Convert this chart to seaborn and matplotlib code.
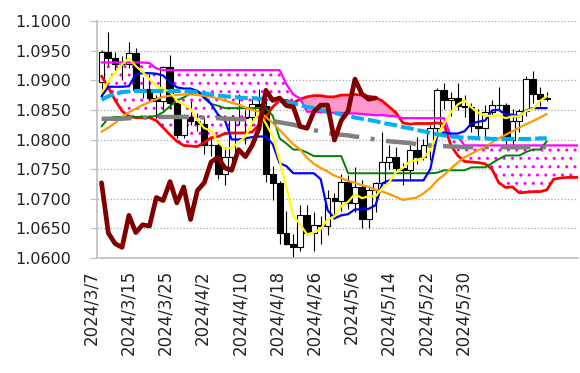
import numpy as np
import seaborn as sns
import matplotlib.pyplot as plt
from matplotlib.ticker import FormatStrFormatter

# EUR/USD daily, 2024/3/7 .. 2024/6/6 (business days)
dates = ['2024/3/7', '2024/3/15', '2024/3/25', '2024/4/2', '2024/4/10', '2024/4/18',
         '2024/4/26', '2024/5/6', '2024/5/14', '2024/5/22', '2024/5/30']

op = [1.0897, 1.0948, 1.0937, 1.0927, 1.0927, 1.0946, 1.0883, 1.0886, 1.0870, 1.0865,
      1.0922, 1.0862, 1.0808, 1.0838, 1.0831, 1.0826, 1.0791, 1.0790, 1.0741, 1.0771,
      1.0836, 1.0837, 1.0838, 1.0860, 1.0856, 1.0742, 1.0727, 1.0642, 1.0624, 1.0618,
      1.0672, 1.0643, 1.0656, 1.0654, 1.0702, 1.0697, 1.0729, 1.0693, 1.0720, 1.0665,
      1.0714, 1.0727, 1.0762, 1.0770, 1.0752, 1.0748, 1.0783, 1.0771, 1.0790, 1.0819,
      1.0883, 1.0866, 1.0870, 1.0857, 1.0855, 1.0822, 1.0819, 1.0847, 1.0858, 1.0858,
      1.0799, 1.0832, 1.0848, 1.0902, 1.0877, 1.0868]
hi = [1.0951, 1.0981, 1.0948, 1.0941, 1.0964, 1.0954, 1.0906, 1.0910, 1.0875, 1.0924,
      1.0942, 1.0868, 1.0843, 1.0865, 1.0845, 1.0838, 1.0803, 1.0800, 1.0787, 1.0842,
      1.0876, 1.0849, 1.0868, 1.0885, 1.0865, 1.0756, 1.0730, 1.0679, 1.0641, 1.0689,
      1.0690, 1.0678, 1.0671, 1.0714, 1.0709, 1.0742, 1.0740, 1.0754, 1.0732, 1.0719,
      1.0728, 1.0812, 1.0790, 1.0788, 1.0761, 1.0791, 1.0804, 1.0801, 1.0825, 1.0887,
      1.0895, 1.0880, 1.0895, 1.0875, 1.0862, 1.0852, 1.0859, 1.0866, 1.0889, 1.0861,
      1.0852, 1.0852, 1.0908, 1.0916, 1.0889, 1.0880]
lo = [1.0869, 1.0925, 1.0913, 1.0901, 1.0921, 1.0880, 1.0870, 1.0867, 1.0836, 1.0850,
      1.0853, 1.0802, 1.0802, 1.0825, 1.0815, 1.0776, 1.0772, 1.0733, 1.0724, 1.0756,
      1.0825, 1.0792, 1.0822, 1.0845, 1.0728, 1.0698, 1.0623, 1.0622, 1.0601, 1.0612,
      1.0638, 1.0611, 1.0624, 1.0639, 1.0665, 1.0680, 1.0682, 1.0677, 1.0650, 1.0650,
      1.0677, 1.0724, 1.0750, 1.0745, 1.0724, 1.0730, 1.0759, 1.0765, 1.0766, 1.0810,
      1.0852, 1.0840, 1.0849, 1.0838, 1.0812, 1.0804, 1.0804, 1.0841, 1.0850, 1.0789,
      1.0789, 1.0812, 1.0840, 1.0862, 1.0857, 1.0865]
cl = [1.0948, 1.0937, 1.0927, 1.0927, 1.0946, 1.0883, 1.0886, 1.0870, 1.0865, 1.0922,
      1.0862, 1.0808, 1.0838, 1.0831, 1.0826, 1.0791, 1.0790, 1.0741, 1.0771, 1.0836,
      1.0837, 1.0838, 1.0860, 1.0856, 1.0742, 1.0727, 1.0642, 1.0624, 1.0618, 1.0672,
      1.0643, 1.0656, 1.0654, 1.0702, 1.0697, 1.0729, 1.0693, 1.0720, 1.0665, 1.0714,
      1.0727, 1.0762, 1.0770, 1.0752, 1.0748, 1.0783, 1.0771, 1.0790, 1.0819, 1.0883,
      1.0866, 1.0870, 1.0857, 1.0855, 1.0822, 1.0819, 1.0847, 1.0858, 1.0858, 1.0799,
      1.0832, 1.0848, 1.0902, 1.0877, 1.0868, 1.0870]

tenkan = [1.0873, 1.0889, 1.0889, 1.0889, 1.0890, 1.0910, 1.0912, 1.0912, 1.0911, 1.0908,
          1.0897, 1.0888, 1.0886, 1.0886, 1.0882, 1.0870, 1.0860, 1.0842, 1.0833, 1.0800,
          1.0800, 1.0802, 1.0804, 1.0805, 1.0805, 1.0792, 1.0760, 1.0755, 1.0743, 1.0743,
          1.0743, 1.0743, 1.0733, 1.0681, 1.0667, 1.0672, 1.0674, 1.0682, 1.0682, 1.0683,
          1.0689, 1.0726, 1.0731, 1.0731, 1.0731, 1.0731, 1.0731, 1.0731, 1.0750, 1.0806,
          1.0812, 1.0810, 1.0810, 1.0814, 1.0827, 1.0830, 1.0832, 1.0849, 1.0850, 1.0842,
          1.0842, 1.0839, 1.0849, 1.0853, 1.0853, 1.0853]
kijun = [1.0822, 1.0836, 1.0838, 1.0838, 1.0838, 1.0838, 1.0838, 1.0838, 1.0840, 1.0846,
         1.0856, 1.0866, 1.0871, 1.0878, 1.0882, 1.0874, 1.0860, 1.0857, 1.0853, 1.0853,
         1.0853, 1.0853, 1.0853, 1.0853, 1.0853, 1.0840, 1.0802, 1.0793, 1.0783, 1.0783,
         1.0778, 1.0772, 1.0772, 1.0772, 1.0772, 1.0772, 1.0743, 1.0743, 1.0743, 1.0743,
         1.0743, 1.0743, 1.0743, 1.0743, 1.0743, 1.0743, 1.0743, 1.0743, 1.0743, 1.0744,
         1.0748, 1.0748, 1.0748, 1.0748, 1.0753, 1.0753, 1.0753, 1.0760, 1.0767, 1.0773,
         1.0773, 1.0773, 1.0779, 1.0783, 1.0783, 1.0797]
ma5 = [1.0879, 1.0898, 1.0913, 1.0927, 1.0937, 1.0924, 1.0914, 1.0902, 1.0890, 1.0885,
       1.0881, 1.0865, 1.0859, 1.0852, 1.0833, 1.0819, 1.0815, 1.0796, 1.0784, 1.0786,
       1.0795, 1.0805, 1.0828, 1.0845, 1.0827, 1.0805, 1.0765, 1.0718, 1.0671, 1.0657,
       1.0640, 1.0643, 1.0649, 1.0665, 1.0670, 1.0688, 1.0695, 1.0708, 1.0701, 1.0704,
       1.0704, 1.0718, 1.0728, 1.0745, 1.0752, 1.0763, 1.0765, 1.0769, 1.0782, 1.0809,
       1.0826, 1.0846, 1.0859, 1.0866, 1.0854, 1.0845, 1.0840, 1.0840, 1.0841, 1.0836,
       1.0839, 1.0839, 1.0848, 1.0852, 1.0865, 1.0873]
ma21 = [1.0813, 1.0820, 1.0828, 1.0838, 1.0846, 1.0852, 1.0858, 1.0863, 1.0868, 1.0872,
        1.0874, 1.0875, 1.0876, 1.0876, 1.0875, 1.0874, 1.0872, 1.0869, 1.0866, 1.0862,
        1.0859, 1.0854, 1.0850, 1.0847, 1.0838, 1.0828, 1.0816, 1.0804, 1.0792, 1.0783,
        1.0769, 1.0759, 1.0752, 1.0746, 1.0739, 1.0735, 1.0730, 1.0727, 1.0723, 1.0720,
        1.0715, 1.0712, 1.0708, 1.0703, 1.0698, 1.0700, 1.0702, 1.0709, 1.0718, 1.0731,
        1.0740, 1.0751, 1.0761, 1.0770, 1.0776, 1.0782, 1.0787, 1.0795, 1.0802, 1.0808,
        1.0814, 1.0820, 1.0826, 1.0831, 1.0837, 1.0843]
ma75 = [1.0867, 1.0873, 1.0877, 1.0880, 1.0881, 1.0882, 1.0882, 1.0882, 1.0882, 1.0882,
        1.0882, 1.0882, 1.0882, 1.0881, 1.0880, 1.0878, 1.0876, 1.0874, 1.0873, 1.0872,
        1.0871, 1.0870, 1.0870, 1.0869, 1.0869, 1.0868, 1.0866, 1.0863, 1.0861, 1.0858,
        1.0855, 1.0853, 1.0850, 1.0847, 1.0845, 1.0842, 1.0840, 1.0837, 1.0835, 1.0833,
        1.0831, 1.0828, 1.0826, 1.0824, 1.0821, 1.0819, 1.0816, 1.0814, 1.0811, 1.0809,
        1.0807, 1.0805, 1.0804, 1.0803, 1.0803, 1.0802, 1.0802, 1.0801, 1.0801, 1.0801,
        1.0801, 1.0801, 1.0801, 1.0801, 1.0802, 1.0802]
ma200 = [1.0835, 1.0835, 1.0835, 1.0835, 1.0836, 1.0836, 1.0837, 1.0837, 1.0838, 1.0838,
         1.0838, 1.0838, 1.0838, 1.0838, 1.0838, 1.0837, 1.0837, 1.0836, 1.0835, 1.0835,
         1.0834, 1.0834, 1.0834, 1.0833, 1.0832, 1.0831, 1.0829, 1.0827, 1.0825, 1.0822,
         1.0819, 1.0816, 1.0813, 1.0811, 1.0809, 1.0808, 1.0807, 1.0805, 1.0804, 1.0802,
         1.0800, 1.0798, 1.0797, 1.0796, 1.0795, 1.0794, 1.0792, 1.0791, 1.0790, 1.0789,
         1.0789, 1.0788, 1.0788, 1.0787, 1.0787, 1.0787, 1.0787, 1.0787, 1.0787, 1.0787,
         1.0787, 1.0787, 1.0787, 1.0787, 1.0787, 1.0787]
span_a = [1.0907, 1.0888, 1.0866, 1.0848, 1.0839, 1.0837, 1.0837, 1.0837, 1.0832, 1.0820,
          1.0808, 1.0797, 1.0790, 1.0789, 1.0788, 1.0795, 1.0803, 1.0805, 1.0810, 1.0811,
          1.0811, 1.0811, 1.0813, 1.0825, 1.0838, 1.0855, 1.0866, 1.0866, 1.0862, 1.0868,
          1.0872, 1.0874, 1.0874, 1.0872, 1.0872, 1.0875, 1.0875, 1.0876, 1.0875, 1.0873,
          1.0871, 1.0865, 1.0855, 1.0845, 1.0828, 1.0826, 1.0827, 1.0827, 1.0827, 1.0828,
          1.0826, 1.0790, 1.0773, 1.0763, 1.0762, 1.0761, 1.0759, 1.0750, 1.0727, 1.0719,
          1.0720, 1.0710, 1.0711, 1.0712, 1.0712, 1.0715, 1.0733, 1.0735, 1.0736, 1.0736,
          1.0736]
span_b = [1.0930, 1.0930, 1.0930, 1.0930, 1.0930, 1.0930, 1.0930, 1.0929, 1.0920, 1.0917,
          1.0917, 1.0917, 1.0917, 1.0917, 1.0917, 1.0917, 1.0917, 1.0917, 1.0917, 1.0917,
          1.0917, 1.0917, 1.0917, 1.0917, 1.0917, 1.0917, 1.0917, 1.0893, 1.0876, 1.0869,
          1.0847, 1.0847, 1.0846, 1.0846, 1.0845, 1.0845, 1.0844, 1.0844, 1.0843, 1.0842,
          1.0841, 1.0841, 1.0840, 1.0839, 1.0836, 1.0836, 1.0836, 1.0836, 1.0836, 1.0836,
          1.0836, 1.0806, 1.0805, 1.0790, 1.0790, 1.0790, 1.0790, 1.0790, 1.0790, 1.0790,
          1.0790, 1.0790, 1.0790, 1.0790, 1.0790, 1.0790, 1.0790, 1.0790, 1.0790, 1.0790,
          1.0790]
chikou = cl[25:]   # close plotted 25 sessions back

sns.set_style('white')
plt.rcParams['font.family'] = ['DejaVu Sans']
plt.rcParams['hatch.color'] = '#FF00FF'
plt.rcParams['hatch.linewidth'] = 1.0

fig = plt.figure(figsize=(5.8, 3.73), dpi=100)
ax = fig.add_axes([97 / 580, 115 / 373, 481 / 580, 237 / 373])

x = np.arange(len(cl))
xs = np.arange(len(span_a))
a = np.array(span_a)
b = np.array(span_b)

# cloud
ax.fill_between(xs, a, b, where=b >= a, interpolate=True, facecolor='white',
                edgecolor='#FF00FF', hatch='..', linewidth=0, zorder=1)
ax.fill_between(xs, a, b, where=a >= b, interpolate=True, facecolor='#FF99CC',
                linewidth=0, zorder=1)

# candles
o = np.array(op)
c = np.array(cl)
body = np.maximum(np.abs(c - o), 0.00004)
ax.vlines(x, lo, hi, color='black', lw=0.8, zorder=2)
ax.bar(x, body, bottom=np.minimum(o, c), width=0.85,
       color=np.where(c >= o, 'white', 'black'), edgecolor='black', linewidth=0.8, zorder=3)

def line(xv, yv, color, lw, ls='-', z=4):
    sns.lineplot(x=xv, y=yv, ax=ax, color=color, linewidth=lw, linestyle=ls,
                 estimator=None, sort=False, zorder=z)

line(xs, span_a, '#FF0000', 2.0)
line(xs, span_b, '#FF00FF', 1.6)
line(x, kijun, '#008000', 1.4)
line(x, tenkan, '#0000FF', 1.6)
line(x, ma21, '#FF9900', 1.6)
line(x, ma5, '#FFFF00', 1.6)
line(x, ma75, '#00B0F0', 2.9, (0, (3.2, 1.0)))
line(x, ma200, '#808080', 3.2, (0, (6.8, 2.6, 0.9, 2.6)))
line(np.arange(len(chikou)), chikou, '#800000', 3.4, z=5)

ax.set_xlim(-0.66, 69.56)
ax.set_ylim(1.06, 1.10)
ax.set_yticks(np.arange(1.06, 1.1001, 0.005))
ax.yaxis.set_major_formatter(FormatStrFormatter('%.4f'))
ax.set_xticks([])
ax.set_xlabel('')
ax.set_ylabel('')
ax.yaxis.grid(True, linestyle=':', color='#A6A6A6', linewidth=0.9)
ax.set_axisbelow(True)
ax.tick_params(axis='y', left=True, length=5, color='#BFBFBF', pad=13.5,
               labelsize=11.5, labelcolor='#222222')
for s in ['top', 'right']:
    ax.spines[s].set_visible(False)
for s in ['left', 'bottom']:
    ax.spines[s].set_color('#BFBFBF')
    ax.spines[s].set_linewidth(1.2)

# date labels (every 6 sessions on the category axis)
for k, lab in enumerate(dates):
    px = 91 + 37.2 * k
    ax.text((px - 97) / 481, -12 / 237, lab, transform=ax.transAxes, rotation=90,
            ha='center', va='top', fontsize=12, color='#222222', clip_on=False)

fig.savefig('out.png', dpi=100)
